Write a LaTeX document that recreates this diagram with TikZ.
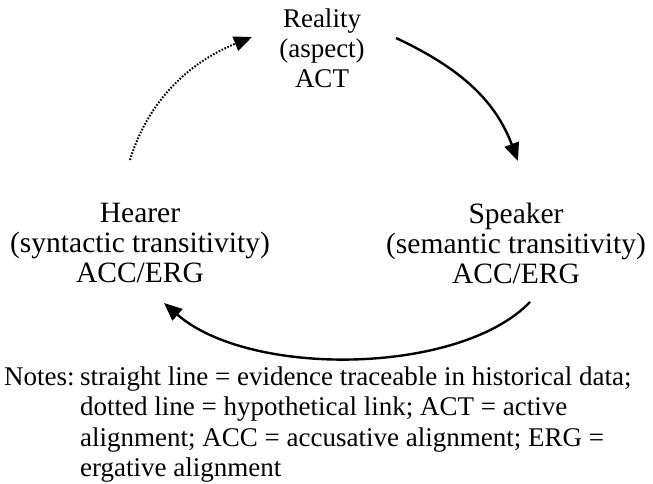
\documentclass[tikz,border=0pt]{standalone}
\usepackage{fontspec}
\setmainfont{Liberation Serif}
\usetikzlibrary{arrows.meta}
\begin{document}
\begin{tikzpicture}[x=1pt,y=-1pt,
  lbl/.style={align=center,inner sep=0pt},
  toplbl/.style={lbl,font=\fontsize{27}{30}\selectfont},
  sidelbl/.style={lbl,font=\fontsize{29.5}{30}\selectfont},
  notelbl/.style={inner sep=0pt,font=\fontsize{27}{30.3}\selectfont},
  arr/.style={line width=2.4pt,-{Triangle[length=18pt,width=15pt]}},
  dotarr/.style={line width=2pt,dash pattern=on 1.6pt off 1.6pt,-{Triangle[length=18pt,width=15pt]}}]
\useasboundingbox (0,0) rectangle (653,484);
\node[toplbl] (reality) at (322,48) {Reality\\(aspect)\\ACT};
\node[sidelbl] (hearer) at (140,243) {Hearer\\(syntactic transitivity)\\ACC/ERG};
\node[sidelbl] (speaker) at (516,243) {Speaker\\(semantic transitivity)\\ACC/ERG};
\node[notelbl,anchor=base west] (noteshead) at (4,385) {Notes:};
\node[notelbl,anchor=north west,align=left] (notes) at (80,366.5)
  {straight line = evidence traceable in historical data;\\
   dotted line = hypothetical link; ACT = active\\
   alignment; ACC = accusative alignment; ERG =\\
   ergative alignment};
\coordinate (a1) at (396,38);
\coordinate (a2) at (518,161);
\coordinate (b1) at (530,302);
\coordinate (b2) at (164,303);
\coordinate (c1) at (130,160);
\coordinate (c2) at (252,37);
\draw[arr] (a1) .. controls (460,68) and (495,100) .. (a2);
\draw[arr] (b1) .. controls (460,375) and (250,378) .. (b2);
\draw[dotarr] (c1) .. controls (150,95) and (195,60) .. (c2);
\end{tikzpicture}
\end{document}
